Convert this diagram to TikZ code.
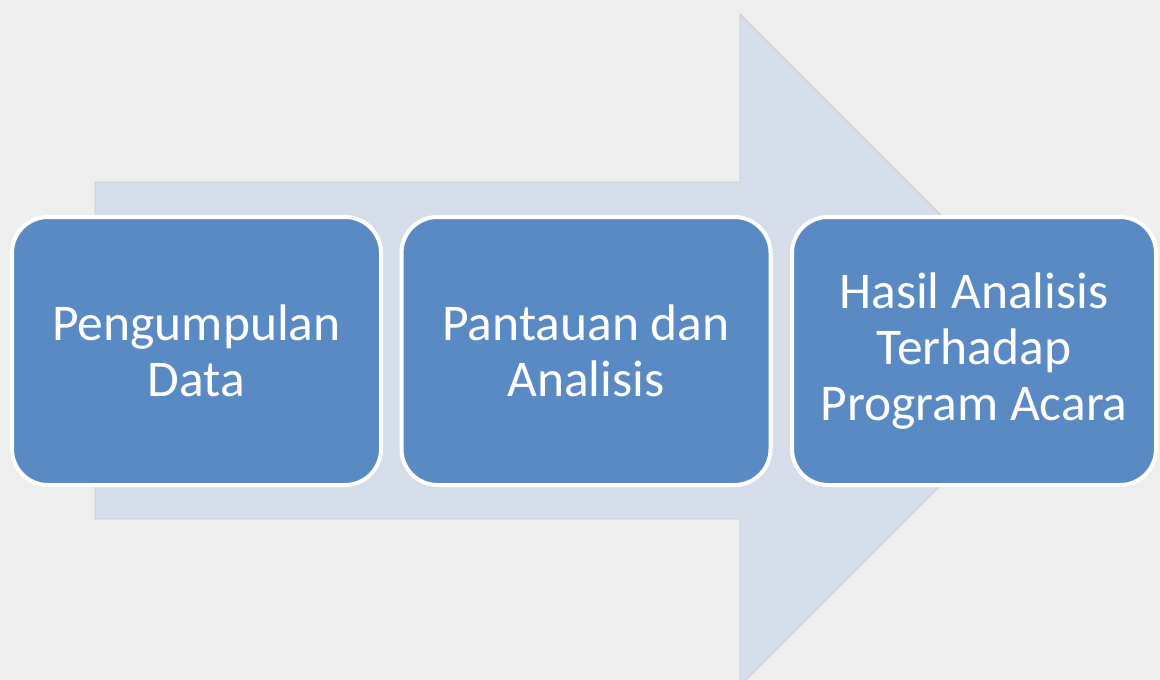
\documentclass[tikz,border=0pt]{standalone}
\usepackage{fontspec}
\setmainfont{Carlito}
\definecolor{bgc}{HTML}{EEEEEE}
\definecolor{arrowc}{HTML}{D5DDEA}
\definecolor{arrowedge}{HTML}{C9CBCF}
\definecolor{boxc}{HTML}{5A8AC4}
\begin{document}
\begin{tikzpicture}[x=1pt,y=-1pt,
  stepbox/.style={draw=white, line width=4pt, fill=boxc, rounded corners=36pt,
    minimum width=369pt, minimum height=268pt, inner sep=0pt,
    text=white, align=center, font=\fontsize{51.5}{56}\selectfont},
]
\useasboundingbox (0,0) rectangle (1160,680);
\clip (0,0) rectangle (1160,680);
\fill[bgc] (0,0) rectangle (1160,680);
% big background arrow
\coordinate (a1) at (95,182);
\coordinate (a2) at (740,182);
\coordinate (a3) at (740,14);
\coordinate (a4) at (1076,350);
\coordinate (a5) at (740,686);
\coordinate (a6) at (740,519);
\coordinate (a7) at (95,519);
\filldraw[fill=arrowc, draw=arrowedge, line width=0.8pt]
  (a1) -- (a2) -- (a3) -- (a4) -- (a5) -- (a6) -- (a7) -- cycle;
% boxes
\node[stepbox] (b1) at (196.5,351) {Pengumpulan\\Data};
\node[stepbox] (b2) at (586,351) {Pantauan dan\\Analisis};
\node[stepbox, minimum width=364pt] (b3) at (974,351) {Hasil Analisis\\Terhadap\\Program Acara};
\end{tikzpicture}
\end{document}
